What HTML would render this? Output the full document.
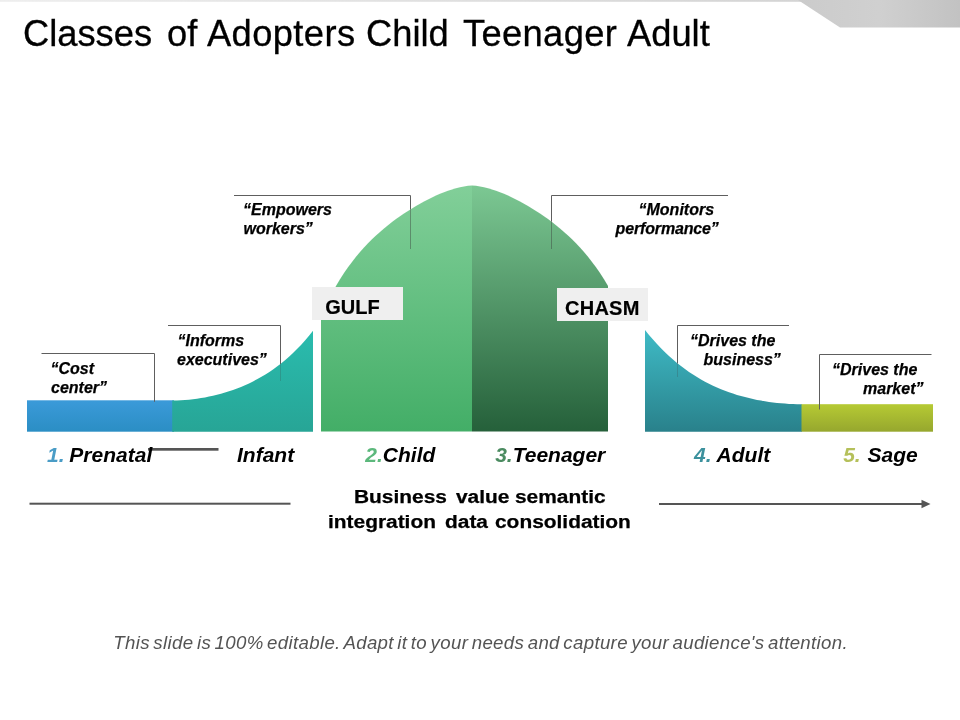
<!DOCTYPE html>
<html>
<head>
<meta charset="utf-8">
<title>Classes of Adopters Child Teenager Adult</title>
<style>
  html, body { margin: 0; padding: 0; }
  body { width: 960px; height: 720px; background: #ffffff; position: relative; overflow: hidden;
         font-family: "Liberation Sans", sans-serif; color: #000; }
  svg.art { position: absolute; left: 0; top: 0; }
  #txt { position: absolute; left: 0; top: 0; width: 960px; height: 720px; will-change: transform; }
  .t { position: absolute; white-space: pre; line-height: 1; }
  .title { top: 16px; font-size: 36.3px; color: #000; -webkit-text-stroke: 0.3px #000; }
  .q { font-size: 16px; font-weight: bold; font-style: italic; color: #000; -webkit-text-stroke: 0.25px #000; }
  .lab { font-size: 21px; font-weight: bold; font-style: italic; color: #000; }
  .box { position: absolute; background: #efefef; }
  .boxt { font-size: 20px; font-weight: bold; color: #000; -webkit-text-stroke: 0.2px #000; }
  .biz { font-size: 18.67px; font-weight: bold; color: #000; -webkit-text-stroke: 0.25px #000; transform: scaleX(1.12); transform-origin: 0 0; }
  .foot { font-size: 18.67px; font-style: italic; color: #545454; letter-spacing: 0.33px; word-spacing: -2.0px; }
</style>
</head>
<body>
<svg class="art" width="960" height="720" viewBox="0 0 960 720">
  <defs>
    <linearGradient id="gTop" x1="0" y1="0" x2="1" y2="0">
      <stop offset="0" stop-color="#cbcbcb"/><stop offset="0.5" stop-color="#d0d0d0"/><stop offset="1" stop-color="#c2c2c2"/>
    </linearGradient>
    <linearGradient id="gStrip" x1="0" y1="0" x2="1" y2="0">
      <stop offset="0" stop-color="#eeeeee"/><stop offset="1" stop-color="#d4d4d4"/>
    </linearGradient>
    <linearGradient id="gBlue" x1="0" y1="0" x2="0" y2="1">
      <stop offset="0" stop-color="#3b9ad9"/><stop offset="1" stop-color="#2b8ec4"/>
    </linearGradient>
    <linearGradient id="gTealL" x1="0" y1="0" x2="0" y2="1">
      <stop offset="0" stop-color="#2abcae"/><stop offset="1" stop-color="#27a596"/>
    </linearGradient>
    <linearGradient id="gGreenL" x1="0" y1="0" x2="0" y2="1">
      <stop offset="0" stop-color="#82cf99"/><stop offset="1" stop-color="#43ae67"/>
    </linearGradient>
    <linearGradient id="gGreenR" x1="0" y1="0" x2="0" y2="1">
      <stop offset="0" stop-color="#7cc893"/><stop offset="1" stop-color="#25603a"/>
    </linearGradient>
    <linearGradient id="gTealR" x1="0" y1="0" x2="0" y2="1">
      <stop offset="0" stop-color="#3fbbc6"/><stop offset="1" stop-color="#29818b"/>
    </linearGradient>
    <linearGradient id="gOlive" x1="0" y1="0" x2="0" y2="1">
      <stop offset="0" stop-color="#b6ca34"/><stop offset="1" stop-color="#96a72e"/>
    </linearGradient>
  </defs>

  <!-- top decoration -->
  <rect x="0" y="0" width="803" height="1.8" fill="url(#gStrip)"/>
  <polygon points="798,0 960,0 960,27.5 840,27.5" fill="url(#gTop)"/>

  <!-- chart shapes -->
  <rect x="27" y="400.3" width="147" height="31.4" fill="url(#gBlue)"/>
  <path id="tealL" d="M172.2,431.7 L172.2,400.4 L177.0,400.4 L181.0,400.3 L185.0,400.0 L189.0,399.7 L193.0,399.2 L197.0,398.7 L201.0,398.1 L205.0,397.4 L209.0,396.6 L213.0,395.7 L217.0,394.8 L221.0,393.7 L225.0,392.5 L229.0,391.3 L233.0,389.9 L237.0,388.5 L241.0,386.9 L245.0,385.2 L249.0,383.4 L253.0,381.4 L257.0,379.3 L261.0,377.1 L265.0,374.7 L269.0,372.2 L273.0,369.4 L277.0,366.6 L281.0,363.5 L285.0,360.2 L289.0,356.7 L293.0,353.0 L297.0,349.1 L301.0,344.9 L305.0,340.5 L309.0,335.8 L313.0,330.8 L313,431.7 Z" fill="url(#gTealL)"/>
  <path id="domeL" d="M321,431.6 L321,315.1 L324.0,308.6 L328.0,300.5 L332.0,293.0 L336.0,285.9 L340.0,279.3 L344.0,273.1 L348.0,267.3 L352.0,261.9 L356.0,256.8 L360.0,252.0 L364.0,247.5 L368.0,243.3 L372.0,239.3 L376.0,235.5 L380.0,231.9 L384.0,228.5 L388.0,225.2 L392.0,222.1 L396.0,219.1 L400.0,216.3 L404.0,213.6 L408.0,211.0 L412.0,208.4 L416.0,206.0 L420.0,203.7 L424.0,201.5 L428.0,199.4 L432.0,197.5 L436.0,195.6 L440.0,193.8 L444.0,192.2 L448.0,190.7 L452.0,189.4 L456.0,188.2 L460.0,187.2 L464.0,186.4 L468.0,185.8 L472.0,185.5 L472,431.6 Z" fill="url(#gGreenL)"/>
  <path id="domeR" d="M472,431.6 L472,185.5 L476.0,185.8 L480.0,186.4 L484.0,187.2 L488.0,188.2 L492.0,189.4 L496.0,190.7 L500.0,192.2 L504.0,193.8 L508.0,195.6 L512.0,197.5 L516.0,199.4 L520.0,201.5 L524.0,203.7 L528.0,206.0 L532.0,208.4 L536.0,211.0 L540.0,213.6 L544.0,216.3 L548.0,219.1 L552.0,222.1 L556.0,225.2 L560.0,228.5 L564.0,231.9 L568.0,235.5 L572.0,239.3 L576.0,243.3 L580.0,247.5 L584.0,252.0 L588.0,256.8 L592.0,261.9 L596.0,267.3 L600.0,273.1 L604.0,279.3 L608,285.9 L608,431.6 Z" fill="url(#gGreenR)"/>
  <path id="tealR" d="M645,431.7 L645,329.9 L649.0,334.9 L653.0,339.6 L657.0,344.0 L661.0,348.2 L665.0,352.2 L669.0,356.0 L673.0,359.6 L677.0,362.9 L681.0,366.1 L685.0,369.1 L689.0,372.0 L693.0,374.6 L697.0,377.1 L701.0,379.5 L705.0,381.7 L709.0,383.8 L713.0,385.7 L717.0,387.5 L721.0,389.2 L725.0,390.8 L729.0,392.3 L733.0,393.6 L737.0,394.9 L741.0,396.1 L745.0,397.1 L749.0,398.1 L753.0,399.0 L757.0,399.9 L761.0,400.6 L765.0,401.3 L769.0,401.9 L773.0,402.4 L777.0,402.9 L781.0,403.3 L785.0,403.6 L789.0,403.9 L793.0,404.1 L797.0,404.2 L801.0,404.2 L802,404.2 L802,431.7 Z" fill="url(#gTealR)"/>
  <rect x="801.5" y="404.2" width="131.5" height="27.5" fill="url(#gOlive)"/>

  <!-- callout lines -->
  <g fill="none" stroke="#5e5e5e" stroke-width="1">
    <polyline points="41.5,353.5 154.5,353.5 154.5,401.8"/>
    <polyline points="168,325.5 280.5,325.5 280.5,364"/>
    <polyline points="234,195.5 410.5,195.5 410.5,209.5"/>
    <polyline points="728,195.5 551.5,195.5 551.5,221.5"/>
    <polyline points="789,325.5 677.5,325.5 677.5,363.5"/>
    <polyline points="931.5,354.5 819.5,354.5 819.5,409.5"/>
  </g>
  <g fill="none" stroke="#3a3a3a" stroke-width="1">
    <line x1="280.5" y1="364" x2="280.5" y2="381" opacity="0.22"/>
    <line x1="410.5" y1="209.5" x2="410.5" y2="249" opacity="0.42"/>
    <line x1="551.5" y1="221.5" x2="551.5" y2="249" opacity="0.42"/>
    <line x1="677.5" y1="363.5" x2="677.5" y2="377" opacity="0.22"/>
  </g>

  <!-- small connector -->
  <rect x="148" y="448" width="70.5" height="2.7" fill="#555"/>

  <!-- arrows -->
  <rect x="29.5" y="502.7" width="261" height="2" fill="#555"/>
  <rect x="659" y="503" width="264" height="2" fill="#555"/>
  <polygon points="921.5,499.8 930.5,504 921.5,508.3" fill="#555"/>
</svg>

<div id="txt">
<div class="t title" id="w1" style="left:23px;">Classes</div>
<div class="t title" id="w2" style="left:167px;">of</div>
<div class="t title" id="w3" style="left:207px; letter-spacing:0.4px;">Adopters</div>
<div class="t title" id="w4" style="left:366px;">Child</div>
<div class="t title" id="w5" style="left:463px; letter-spacing:0.35px;">Teenager</div>
<div class="t title" id="w6" style="left:627px;">Adult</div>

<div class="box" style="left:312px; top:287px; width:91px; height:33px;"></div>
<div class="box" style="left:557px; top:288px; width:91px; height:33px;"></div>
<div class="t boxt" id="gulf" style="left:325.3px; top:296.6px;">GULF</div>
<div class="t boxt" id="chasm" style="letter-spacing:0.25px; left:565px; top:297.6px;">CHASM</div>

<div class="t q" id="q1a" style="left:50.5px; top:360.6px;">“Cost</div>
<div class="t q" id="q1b" style="left:51px; top:379.6px;">center”</div>
<div class="t q" id="q2a" style="left:177.5px; top:332.6px;">“Informs</div>
<div class="t q" id="q2b" style="left:177px; top:351.6px;">executives”</div>
<div class="t q" id="q3a" style="left:243px; top:201.6px;">“Empowers</div>
<div class="t q" id="q3b" style="left:243.5px; top:220.6px;">workers”</div>
<div class="t q" id="q4a" style="left:638.5px; top:201.6px;">“Monitors</div>
<div class="t q" id="q4b" style="letter-spacing:-0.15px; left:615.6px; top:220.6px;">performance”</div>
<div class="t q" id="q5a" style="left:690px; top:332.6px;">“Drives the</div>
<div class="t q" id="q5b" style="left:703.5px; top:351.6px;">business”</div>
<div class="t q" id="q6a" style="left:832px; top:361.6px;">“Drives the</div>
<div class="t q" id="q6b" style="left:863px; top:380.6px;">market”</div>

<div class="t lab" id="l1" style="left:46px; top:443.9px;"><span style="color:#4a9cc6; position:relative; left:1px;">1.</span> Prenatal</div>
<div class="t lab" id="l1b" style="left:237px; top:443.9px;">Infant</div>
<div class="t lab" id="l2" style="left:365.3px; top:443.9px;"><span style="color:#5cb87c">2.</span>Child</div>
<div class="t lab" id="l3" style="left:495.2px; top:443.9px;"><span style="color:#4b8b60">3.</span>Teenager</div>
<div class="t lab" id="l4" style="left:694px; top:443.9px;"><span style="color:#3c919d">4.</span> Adult</div>
<div class="t lab" id="l5" style="left:844.2px; top:443.9px;"><span style="color:#b5c05a; position:relative; left:-1px;">5.</span> Sage</div>

<div class="t biz" id="b1" style="left:354px; top:487.5px;">Business</div>
<div class="t biz" id="b1b" style="left:456px; top:487.5px;">value</div>
<div class="t biz" id="b1c" style="left:515px; top:487.5px;">semantic</div>
<div class="t biz" id="b2" style="left:328px; top:512.5px;">integration</div>
<div class="t biz" id="b2b" style="left:445px; top:512.5px;">data</div>
<div class="t biz" id="b2c" style="left:495px; top:512.5px;">consolidation</div>

<div class="t foot" id="foot" style="left:113.3px; top:633.6px;">This slide is 100% editable. Adapt it to your needs and capture your audience's attention.</div>
</div>
</body>
</html>
